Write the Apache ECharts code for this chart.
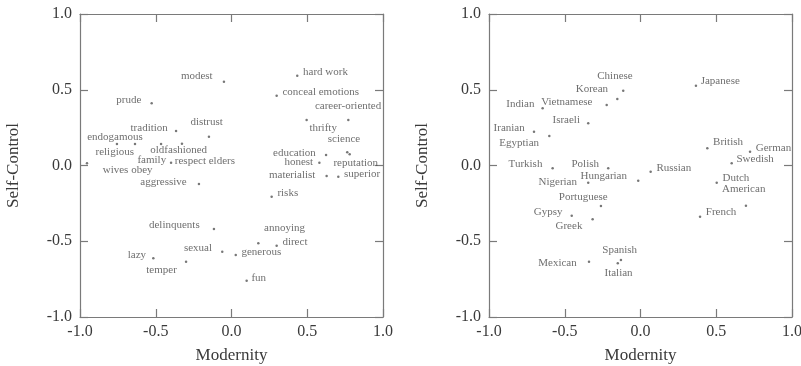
<!DOCTYPE html>
<html>
<head>
<meta charset="utf-8">
<script src="https://cdn.jsdelivr.net/npm/echarts@6/dist/echarts.min.js"></script>
<style>
  html, body { margin: 0; padding: 0; background: #fff; }
  #chart { width: 801px; height: 366px; }
</style>
</head>
<body>
<div id="chart"></div>
<script>
// ---- data
var wordNames = ['modest', 'hard work', 'conceal emotions', 'prude', 'career-oriented', 'thrifty',
    'tradition', 'distrust', 'science', 'reputation', 'education', 'honest', 'materialist', 'superior',
    'endogamous', 'religious', 'family', 'oldfashioned', 'wives obey', 'respect elders', 'aggressive',
    'risks', 'delinquents', 'annoying', 'direct', 'sexual', 'generous', 'lazy', 'temper', 'fun'];
var wordX = [-0.05, 0.434, 0.298, -0.527, 0.771, 0.496,
    -0.366, -0.149, 0.764, 0.78, 0.624, 0.58, 0.628, 0.705,
    -0.637, -0.756, -0.465, -0.327, -0.954, -0.399, -0.215,
    0.265, -0.116, 0.177, 0.298, -0.061, 0.028, -0.516, -0.30, 0.10];
var wordY = [0.553, 0.593, 0.461, 0.411, 0.30, 0.30,
    0.228, 0.19, 0.087, 0.075, 0.069, 0.018, -0.069, -0.074,
    0.142, 0.142, 0.142, 0.144, 0.015, 0.018, -0.122,
    -0.206, -0.419, -0.514, -0.529, -0.569, -0.591, -0.613, -0.635, -0.76];

var nationNames = ['Chinese', 'Korean', 'Japanese', 'Indian', 'Vietnamese', 'Israeli', 'Iranian',
    'Egyptian', 'British', 'German', 'Swedish', 'Turkish', 'Polish', 'Russian', 'Nigerian',
    'Hungarian', 'Dutch', 'American', 'Portuguese', 'Gypsy', 'French', 'Greek', 'Spanish',
    'Mexican', 'Italian'];
var nationX = [-0.114, -0.153, 0.366, -0.646, -0.223, -0.345, -0.703,
    -0.602, 0.441, 0.723, 0.602, -0.58, -0.213, 0.067, -0.345,
    -0.015, 0.503, 0.696, -0.261, -0.454, 0.393, -0.316, -0.129,
    -0.34, -0.15];
var nationY = [0.494, 0.439, 0.527, 0.378, 0.399, 0.279, 0.223,
    0.195, 0.114, 0.091, 0.015, -0.018, -0.018, -0.041, -0.114,
    -0.10, -0.114, -0.265, -0.267, -0.331, -0.338, -0.355, -0.624,
    -0.635, -0.646];

var tickLabels = ['-1.0', '-0.5', '0.0', '0.5', '1.0'];

// ---- label placement (dx, dy from the dot, anchor l/r/c)
var labelPlace = {
    'modest': [-11, -5, 'r'], 'hard work': [6, -3, 'l'], 'conceal emotions': [6, -3, 'l'],
    'prude': [-10, -3, 'r'], 'career-oriented': [0, -14, 'c'], 'thrifty': [3, 8, 'l'],
    'tradition': [-8, -3, 'r'], 'distrust': [-2, -14, 'c'], 'science': [-3, -13, 'c'],
    'reputation': [-16, 9, 'l'], 'education': [-10, -2, 'r'], 'honest': [-6, 0, 'r'],
    'materialist': [-11, -1, 'r'], 'superior': [6, -2, 'l'], 'endogamous': [8, -7, 'r'],
    'religious': [-2, 8, 'c'], 'family': [-9, 16, 'c'], 'oldfashioned': [-3, 7, 'c'],
    'wives obey': [16, 7, 'l'], 'respect elders': [4, -1, 'l'], 'aggressive': [-12, -2, 'r'],
    'risks': [6, -3, 'l'], 'delinquents': [-14, -4, 'r'], 'annoying': [6, -15, 'l'],
    'direct': [6, -3, 'l'], 'sexual': [-10, -3, 'r'], 'generous': [6, -3, 'l'],
    'lazy': [-7, -3, 'r'], 'temper': [-9, 9, 'r'], 'fun': [5, -2, 'l'],

    'Chinese': [-8, -14, 'c'], 'Korean': [-9, -10, 'r'], 'Japanese': [5, -4, 'l'],
    'Indian': [-8, -4, 'r'], 'Vietnamese': [-14, -3, 'r'], 'Israeli': [-8, -3, 'r'],
    'Iranian': [-9, -3, 'r'], 'Egyptian': [-10, 7, 'r'], 'British': [6, -6, 'l'],
    'German': [6, -3, 'l'], 'Swedish': [5, -4, 'l'], 'Turkish': [-10, -4, 'r'],
    'Polish': [-9, -4, 'r'], 'Russian': [6, -3, 'l'], 'Nigerian': [-11, 0, 'r'],
    'Hungarian': [-11, -4, 'r'], 'Dutch': [6, -4, 'l'], 'American': [-2, -16, 'c'],
    'Portuguese': [7, -9, 'r'], 'Gypsy': [-9, -3, 'r'], 'French': [6, -4, 'l'],
    'Greek': [-10, 7, 'r'], 'Spanish': [-1, -10, 'c'], 'Mexican': [-12, 2, 'r'],
    'Italian': [1, 10, 'c']
};

var FONT = 'Liberation Serif';
var TEXT = '#4a4a4a';
var AXIS_TEXT = '#3a3a3a';
var LINE = '#7a7a7a';

function buildPoints(names, xs, ys) {
    var alignMap = { l: 'left', r: 'right', c: 'center' };
    return names.map(function (n, i) {
        var p = labelPlace[n] || [5, 0, 'l'];
        return {
            name: n,
            value: [xs[i], ys[i]],
            label: {
                position: [p[0] + 1, p[1] + 1],
                align: alignMap[p[2]],
                verticalAlign: 'middle'
            }
        };
    });
}

function tickFmt(v) {
    var i = Math.round((v + 1) / 0.5);
    return tickLabels[i] !== undefined ? tickLabels[i] : '';
}

function baseAxis(gridIndex) {
    return {
        gridIndex: gridIndex,
        type: 'value',
        min: -1, max: 1, interval: 0.5,
        axisLine: { show: true, onZero: false, lineStyle: { color: LINE, width: 1.2 } },
        axisTick: { show: true, inside: true, length: 8, lineStyle: { color: LINE, width: 1.2 } },
        splitLine: { show: false }
    };
}

function xAxes(gridIndex) {
    return [
        Object.assign(baseAxis(gridIndex), {
            position: 'bottom',
            name: 'Modernity',
            nameLocation: 'middle',
            nameGap: 30,
            nameTextStyle: { fontFamily: FONT, fontSize: 17, color: AXIS_TEXT },
            axisLabel: { formatter: tickFmt, margin: 7, fontFamily: FONT, fontSize: 16, color: AXIS_TEXT }
        }),
        Object.assign(baseAxis(gridIndex), { position: 'top', axisLabel: { show: false } })
    ];
}

function yAxes(gridIndex) {
    return [
        Object.assign(baseAxis(gridIndex), {
            position: 'left',
            name: 'Self-Control',
            nameLocation: 'middle',
            nameGap: 58,
            nameTextStyle: { fontFamily: FONT, fontSize: 17, color: AXIS_TEXT },
            axisLabel: { formatter: tickFmt, margin: 8, fontFamily: FONT, fontSize: 16, color: AXIS_TEXT }
        }),
        Object.assign(baseAxis(gridIndex), { position: 'right', axisLabel: { show: false } })
    ];
}

function scatter(xi, yi, data) {
    return {
        type: 'scatter',
        xAxisIndex: xi,
        yAxisIndex: yi,
        symbol: 'circle',
        symbolSize: 2.5,
        itemStyle: { color: '#555' },
        label: {
            show: true,
            formatter: '{b}',
            fontFamily: FONT,
            fontSize: 11,
            color: TEXT
        },
        emphasis: { disabled: true },
        data: data
    };
}

var chart = echarts.init(document.getElementById('chart'));
chart.setOption({
    backgroundColor: '#fff',
    animation: false,
    grid: [
        { left: 80, top: 14, width: 303, height: 303, outerBoundsMode: 'none' },
        { left: 489, top: 14, width: 303, height: 303, outerBoundsMode: 'none' }
    ],
    xAxis: xAxes(0).concat(xAxes(1)),
    yAxis: yAxes(0).concat(yAxes(1)),
    series: [
        scatter(0, 0, buildPoints(wordNames, wordX, wordY)),
        scatter(2, 2, buildPoints(nationNames, nationX, nationY))
    ]
});
</script>
</body>
</html>
